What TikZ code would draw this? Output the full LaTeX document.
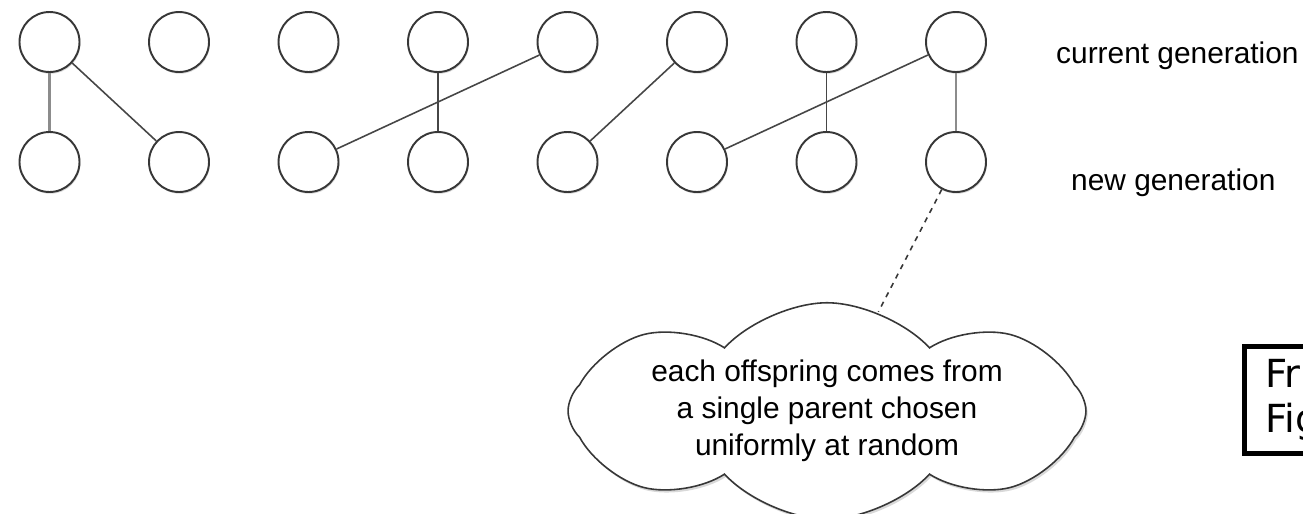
\documentclass[tikz,border=0pt]{standalone}
\usepackage{fontspec}
\setmainfont{Liberation Sans}
\newfontfamily\boxfont{DejaVu Sans}
\usetikzlibrary{shapes.symbols,shadows}
\definecolor{rim}{RGB}{55,55,55}
\definecolor{dark}{RGB}{70,70,70}
\definecolor{pale}{RGB}{140,140,140}

\begin{document}
\begin{tikzpicture}[x=0.02cm,y=-0.02cm,
  indiv/.style={circle,draw=rim,line width=1.1pt,fill=white,minimum size=1.2cm,inner sep=0pt,
    drop shadow={shadow xshift=0.5pt,shadow yshift=-1pt,opacity=0.3}},
  tie/.style={draw=dark,line width=0.9pt},
  paletie/.style={draw=pale,line width=1.3pt},
  lab/.style={font=\fontsize{17}{20}\selectfont,anchor=base west}]
\useasboundingbox (0,0) rectangle (1303,514);
\clip (0,0) rectangle (1303,514);

\node[indiv] (c1) at (49.5,42) {};
\node[indiv] (c2) at (179,42) {};
\node[indiv] (c3) at (308.5,42) {};
\node[indiv] (c4) at (438,42) {};
\node[indiv] (c5) at (567.5,42) {};
\node[indiv] (c6) at (697,42) {};
\node[indiv] (c7) at (826.5,42) {};
\node[indiv] (c8) at (956,42) {};
\node[indiv] (n1) at (49.5,162) {};
\node[indiv] (n2) at (179,162) {};
\node[indiv] (n3) at (308.5,162) {};
\node[indiv] (n4) at (438,162) {};
\node[indiv] (n5) at (567.5,162) {};
\node[indiv] (n6) at (697,162) {};
\node[indiv] (n7) at (826.5,162) {};
\node[indiv] (n8) at (956,162) {};

\draw[paletie] (c1) -- (n1);
\draw[tie] (c1) -- (n2);
\draw[tie] (c4) -- (n4);
\draw[tie] (c5) -- (n3);
\draw[tie] (c6) -- (n5);
\draw[tie] (c7) -- (n7);
\draw[tie] (c8) -- (n6);
\draw[paletie] (c8) -- (n8);

\node[lab] (cur) at (1050,63) {current generation};
\node[lab] (new) at (1065,190) {new generation};

\node[cloud,cloud puffs=8,cloud puff arc=95,cloud ignores aspect,draw=rim,line width=0.9pt,fill=white,
  minimum width=10.36cm,minimum height=4.0cm,inner sep=0pt,align=center,
  font=\fontsize{17}{21}\selectfont,
  drop shadow={shadow xshift=1pt,shadow yshift=-1.5pt,opacity=0.3}] (note) at (827,411)
  {each offspring comes from\\a single parent chosen\\uniformly at random};
\draw[dashed,draw=rim,line width=0.9pt] (n8) -- (note);

\node[draw,line width=2.8pt,anchor=north west,minimum height=2.15cm,text width=4cm,align=left,
  inner xsep=12pt,font=\boxfont\fontsize{22}{25.5}\selectfont] (src) at (1242,344) {Fr\\Fig};
\end{tikzpicture}
\end{document}
